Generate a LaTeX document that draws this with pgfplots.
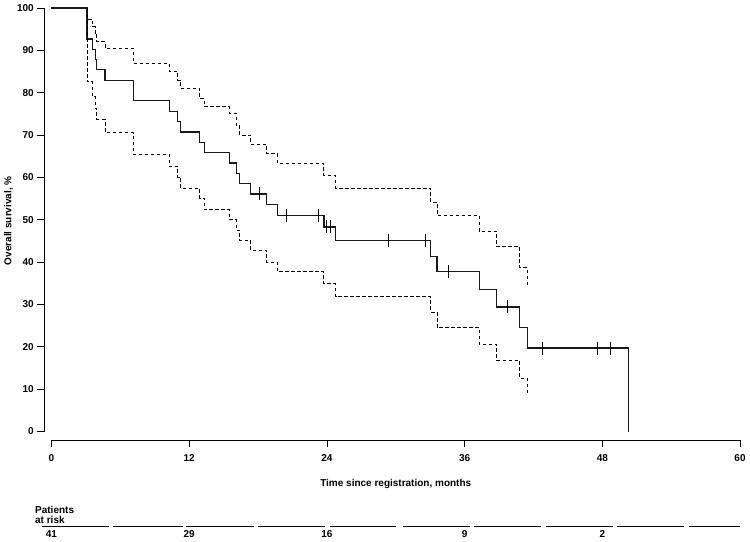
\documentclass[border=0pt]{standalone}
\usepackage{fontspec}
\setmainfont{Liberation Sans}
\usepackage{pgfplots}
\pgfplotsset{compat=1.18}
\begin{document}
\begin{tikzpicture}[font=\fontsize{10bp}{12bp}\selectfont\bfseries]
\begin{axis}[
  x=11.475bp, y=4.235bp,
  xmin=0, xmax=60, ymin=0, ymax=100,
  separate axis lines,
  axis x line*=bottom, axis y line*=left,
  axis x line shift=8.5bp, axis y line shift=7.5bp,
  axis line style={line width=0.8bp, -},
  xtick={0,12,...,60}, ytick={0,10,...,100},
  tick align=outside, major tick length=6.7bp,
  tick style={line width=0.8bp, black},
  xticklabel style={yshift=-4bp},
  /pgf/number format/assume math mode=true,
  clip=false,
  xlabel={Time since registration, months},
  ylabel={Overall survival, \%},
  every axis x label/.style={at={(axis cs:30,-12.9)}, anchor=base},
  every axis y label/.style={at={(axis cs:-3.75,49.75)}, rotate=90, anchor=center},
]
% Kaplan-Meier estimate
\addplot[const plot, black!90, line width=1.2bp] coordinates {
(0,100) (3.1,92.7) (3.55,90.2) (3.8,87.8) (3.93,85.4) (4.66,82.9)
(7.13,78.1) (10.25,75.6) (11.0,73.2) (11.25,70.7) (12.93,68.3) (13.3,65.9)
(15.5,63.4) (16.1,61.0) (16.4,58.5) (17.35,56.1) (18.75,53.6) (19.7,51.0)
(23.74,48.3) (24.75,45.1) (33.06,41.3) (33.6,37.7) (37.27,33.5) (38.8,29.4)
(40.8,24.5) (41.45,19.7) (50.3,0)
};
% upper confidence limit
\addplot[const plot, black, line width=0.9bp, dash pattern=on 3.5bp off 2.5bp] coordinates {
(3.1,100) (3.1,97.4) (3.55,95.6) (3.8,94.0) (3.93,92.0) (4.66,90.5)
(7.13,86.9) (10.25,85.0) (11.0,83.0) (11.25,81.0) (12.93,78.6) (13.3,76.7)
(15.5,75.1) (16.1,72.3) (16.4,70.0) (17.35,67.8) (18.75,65.6) (19.7,63.3)
(23.74,60.5) (24.75,57.5) (33.06,54.2) (33.6,51.1) (37.27,47.3) (38.8,43.6)
(40.8,38.7) (41.45,34.1)
};
% lower confidence limit
\addplot[const plot, black, line width=0.9bp, dash pattern=on 3.5bp off 2.5bp] coordinates {
(3.1,100) (3.1,82.6) (3.55,79.0) (3.8,76.3) (3.93,73.7) (4.66,70.6)
(7.13,65.4) (10.25,62.6) (11.0,60.1) (11.25,57.4) (12.93,55.0) (13.3,52.4)
(15.5,50.0) (16.1,47.5) (16.4,45.2) (17.35,42.8) (18.75,40.0) (19.7,37.7)
(23.74,34.9) (24.75,31.8) (33.06,28.2) (33.6,24.5) (37.27,20.6) (38.8,16.8)
(40.8,12.6) (41.45,8.9)
};
% censored observations
\addplot[only marks, mark=|, mark size=6.5bp, mark options={line width=1bp, black}] coordinates {
(18.16,56.1) (20.5,51.0) (23.25,51.0) (23.97,48.3) (24.35,48.3) (29.35,45.1)
(32.6,45.1) (34.56,37.7) (39.7,29.4) (42.8,19.7) (47.6,19.7) (48.7,19.7)
};
% patients at risk table
\node[anchor=base west, inner sep=0pt] at (axis cs:-1.44,-19.32) {Patients};
\node[anchor=base west, inner sep=0pt] at (axis cs:-1.44,-21.68) {at risk};
\draw[line width=0.8bp] (axis cs:-0.85,-22.48) -- (axis cs:5.01,-22.48);
\draw[line width=0.8bp] (axis cs:5.36,-22.48) -- (axis cs:11.43,-22.48);
\draw[line width=0.8bp] (axis cs:11.72,-22.48) -- (axis cs:17.65,-22.48);
\draw[line width=0.8bp] (axis cs:18.0,-22.48) -- (axis cs:23.83,-22.48);
\draw[line width=0.8bp] (axis cs:24.27,-22.48) -- (axis cs:30.02,-22.48);
\draw[line width=0.8bp] (axis cs:30.63,-22.48) -- (axis cs:36.47,-22.48);
\draw[line width=0.8bp] (axis cs:36.82,-22.48) -- (axis cs:42.66,-22.48);
\draw[line width=0.8bp] (axis cs:43.09,-22.48) -- (axis cs:48.93,-22.48);
\draw[line width=0.8bp] (axis cs:49.28,-22.48) -- (axis cs:55.12,-22.48);
\draw[line width=0.8bp] (axis cs:55.55,-22.48) -- (axis cs:60,-22.48);
\node[anchor=base, inner sep=0pt] at (axis cs:0,-24.98) {41};
\node[anchor=base, inner sep=0pt] at (axis cs:12,-24.98) {29};
\node[anchor=base, inner sep=0pt] at (axis cs:24,-24.98) {16};
\node[anchor=base, inner sep=0pt] at (axis cs:36,-24.98) {9};
\node[anchor=base, inner sep=0pt] at (axis cs:48,-24.98) {2};
\coordinate (BL) at (axis cs:-4.488,-25.86);
\coordinate (TR) at (axis cs:60.87,101.89);
\end{axis}
\pgfresetboundingbox
\useasboundingbox (BL) rectangle (TR);
\end{tikzpicture}
\end{document}
